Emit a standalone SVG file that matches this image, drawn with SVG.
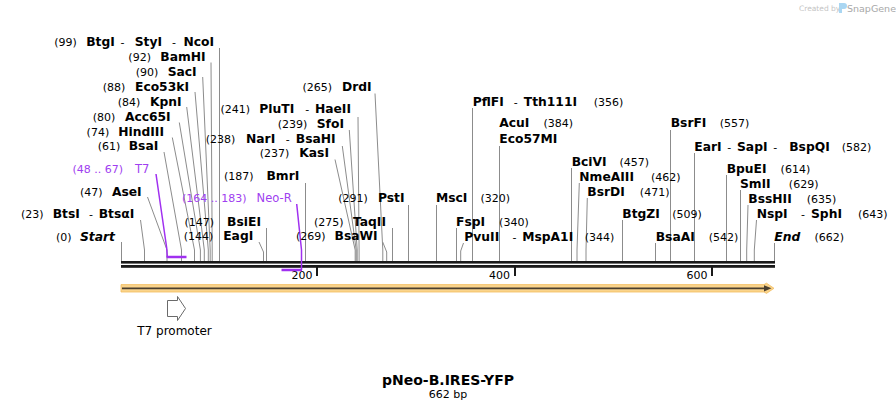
<svg xmlns="http://www.w3.org/2000/svg" width="896" height="411" viewBox="0 0 896 411">
<style>
text{font-family:"DejaVu Sans","Verdana",sans-serif;font-size:11px;fill:#000}
.b{font-weight:bold;font-size:12.3px}
.bi{font-weight:bold;font-style:italic;font-size:12.3px}
.p{fill:#a040f0}
.cut{stroke:#8c8c8c;stroke-width:1;fill:none}
.pl{stroke:#a030f0;stroke-width:1.5;fill:none}
.pbar{stroke:#a030f0;stroke-width:2.5;fill:none}
.tick{stroke:#1a1a1a;stroke-width:2}
</style>
<rect width="896" height="411" fill="#fff"/>

<g id="logo">
<text x="799" y="11" style="font-size:7.5px;fill:#c4c4c4">Created by</text>
<path d="M839,3 h5 a3,3 0 0 1 0,6 h-2 v4 h-3 z" fill="#a9d6f2"/>
<text x="847" y="11.5" style="font-size:9.5px;fill:#a8a8a8">SnapGene</text>
</g>

<g id="map">
<rect x="121" y="261" width="654" height="2.6" fill="#1a1a1a"/>
<rect x="121" y="265" width="654" height="2.8" fill="#1a1a1a"/>
<line class="tick" x1="317" y1="267" x2="317" y2="276"/>
<line class="tick" x1="515" y1="267" x2="515" y2="276"/>
<line class="tick" x1="712" y1="267" x2="712" y2="276"/>
<text x="312.5" y="279" text-anchor="end">200</text>
<text x="510" y="279" text-anchor="end">400</text>
<text x="707.5" y="279" text-anchor="end">600</text>
</g>

<g id="feature-full">
<path d="M121,284.6 H764 L766.5,283.2 L774,288.3 L766.5,293.4 L764,292 H121 Z" fill="#fad48c" stroke="#f2bd5e" stroke-width="0.8"/>
<line x1="122" y1="288.3" x2="767" y2="288.3" stroke="#4a3f2f" stroke-width="1.8"/>
<path d="M764,285.2 L771.5,288.3 L764,291.4 Z" fill="#4a3f2f"/>
</g>

<g id="t7-promoter">
<path d="M167.5,300.5 H177.5 V296.5 L185.5,308.5 L177.5,320.5 V316.5 H167.5 Z" fill="#fff" stroke="#6a6a6a" stroke-width="1"/>
<text x="174.5" y="334.5" text-anchor="middle" style="font-size:12px">T7 promoter</text>
</g>

<g id="title">
<text x="448" y="385" text-anchor="middle" style="font-size:14px;font-weight:bold">pNeo-B.IRES-YFP</text>
<text x="448" y="398" text-anchor="middle">662 bp</text>
</g>

<g id="connectors">
<polyline class="cut" points="121.5,242 121.5,261"/>
<polyline class="cut" points="140.5,220 144.5,250 144.5,261"/>
<polyline class="cut" points="147.5,197 167,250 167,261"/>
<polyline class="cut" points="164,152 181.5,250 181.5,261"/>
<polyline class="cut" points="172.3,137.5 194.5,250 194.5,261"/>
<polyline class="cut" points="179.3,122.5 200.4,250 200.4,261"/>
<polyline class="cut" points="186.7,107 204.3,250 204.3,261"/>
<polyline class="cut" points="195,92 208.3,250 208.3,261"/>
<polyline class="cut" points="202.7,77 210.2,250 210.2,261"/>
<polyline class="cut" points="211,62.5 212.2,250 212.2,261"/>
<polyline class="cut" points="219.5,48 219.5,261"/>
<polyline class="cut" points="259,242 263.5,252 263.5,261"/>
<polyline class="cut" points="266.5,228 266.5,261"/>
<polyline class="cut" points="305.5,183 305.5,261"/>
<polyline class="cut" points="335,159.5 355.2,250 355.2,261"/>
<polyline class="cut" points="342.3,146 356.2,250 356.2,261"/>
<polyline class="cut" points="349.3,130 357.2,250 357.2,261"/>
<polyline class="cut" points="358,117 359.1,250 359.1,261"/>
<polyline class="cut" points="375,93.5 382.8,250 382.8,261"/>
<polyline class="cut" points="382.7,242 386.7,252 386.7,261"/>
<polyline class="cut" points="392.5,228 392.5,261"/>
<polyline class="cut" points="408.5,205 408.5,261"/>
<polyline class="cut" points="436.5,205 436.5,261"/>
<polyline class="cut" points="456.5,228 456.5,261"/>
<polyline class="cut" points="463.5,243 460.7,251 460.7,261"/>
<polyline class="cut" points="472.5,108 472.5,261"/>
<polyline class="cut" points="499.5,146 499.5,261"/>
<polyline class="cut" points="571.5,168 571.5,261"/>
<polyline class="cut" points="579.3,183 577,250 577,261"/>
<polyline class="cut" points="587.3,198 586,250 586,261"/>
<polyline class="cut" points="622.5,220 622.5,261"/>
<polyline class="cut" points="655.5,243 655.5,261"/>
<polyline class="cut" points="670.5,130 670.5,261"/>
<polyline class="cut" points="694.5,153 694.5,261"/>
<polyline class="cut" points="726.5,175 726.5,261"/>
<polyline class="cut" points="740.5,190 740.5,261"/>
<polyline class="cut" points="748,205 746.7,250 746.7,261"/>
<polyline class="cut" points="756.5,220 754.3,250 754.3,261"/>
<polyline class="cut" points="774.5,243 774.5,261"/>
<polyline class="pl" points="156,174 166.7,248 167.3,257"/>
<line class="pbar" x1="166.5" y1="257" x2="186.5" y2="257"/>
<polyline class="pl" points="296.7,204 301.5,250 301.5,270"/>
<line class="pbar" x1="281.5" y1="270" x2="302" y2="270"/>
</g>

<g id="label-btgi"><text x="214" y="46" text-anchor="end">(99)<tspan class="b" dx="9.5">BtgI</tspan><tspan dx="5.6">-</tspan><tspan class="b" dx="10.3">StyI</tspan><tspan dx="10">-</tspan><tspan class="b" dx="7.3">NcoI</tspan></text></g>
<g id="label-bamhi"><text x="205.7" y="61" text-anchor="end">(92)<tspan class="b" dx="9.4">BamHI</tspan></text></g>
<g id="label-saci"><text x="196.7" y="76" text-anchor="end">(90)<tspan class="b" dx="9.4">SacI</tspan></text></g>
<g id="label-eco53ki"><text x="189" y="91" text-anchor="end">(88)<tspan class="b" dx="9.6">Eco53kI</tspan></text></g>
<g id="label-kpni"><text x="181.7" y="105.5" text-anchor="end">(84)<tspan class="b" dx="9.6">KpnI</tspan></text></g>
<g id="label-acc65i"><text x="170.7" y="120.5" text-anchor="end">(80)<tspan class="b" dx="9.6">Acc65I</tspan></text></g>
<g id="label-hindiii"><text x="164" y="135.5" text-anchor="end">(74)<tspan class="b" dx="9">HindIII</tspan></text></g>
<g id="label-bsai"><text x="158.3" y="150" text-anchor="end">(61)<tspan class="b" dx="8.5">BsaI</tspan></text></g>
<g id="label-t7"><text x="149.3" y="172.5" text-anchor="end" class="p">(48 .. 67)<tspan dx="12" style="font-size:11.5px">T7</tspan></text></g>
<g id="label-asei"><text x="141.7" y="195.5" text-anchor="end">(47)<tspan class="b" dx="9.3">AseI</tspan></text></g>
<g id="label-btsi"><text x="134.3" y="218" text-anchor="end">(23)<tspan class="b" dx="9">BtsI</tspan><tspan dx="9.3">-</tspan><tspan class="b" dx="5.6">BtsαI</tspan></text></g>
<g id="label-start"><text x="115" y="240.5" text-anchor="end">(0)<tspan class="bi" dx="8.4">Start</tspan></text></g>

<g id="label-pluti"><text x="351" y="113.3" text-anchor="end">(241)<tspan class="b" dx="9.3">PluTI</tspan><tspan dx="11">-</tspan><tspan class="b" dx="5.7">HaeII</tspan></text></g>
<g id="label-sfoi"><text x="344" y="127.5" text-anchor="end">(239)<tspan class="b" dx="9.4">SfoI</tspan></text></g>
<g id="label-nari"><text x="335.7" y="142.7" text-anchor="end">(238)<tspan class="b" dx="10.6">NarI</tspan><tspan dx="10.6">-</tspan><tspan class="b" dx="6">BsaHI</tspan></text></g>
<g id="label-kasi"><text x="329" y="157.3" text-anchor="end">(237)<tspan class="b" dx="10">KasI</tspan></text></g>
<g id="label-drdi"><text x="371.7" y="90.7" text-anchor="end">(265)<tspan class="b" dx="10">DrdI</tspan></text></g>
<g id="label-bmri"><text x="299.3" y="180" text-anchor="end">(187)<tspan class="b" dx="13">BmrI</tspan></text></g>
<g id="label-neor"><text x="291.7" y="201.7" text-anchor="end" class="p">(164 .. 183)<tspan dx="10" style="font-size:11.5px">Neo-R</tspan></text></g>
<g id="label-bsiei"><text x="261" y="225.7" text-anchor="end">(147)<tspan class="b" dx="13">BsiEI</tspan></text></g>
<g id="label-eagi"><text x="253.3" y="240" text-anchor="end">(144)<tspan class="b" dx="10">EagI</tspan></text></g>
<g id="label-psti"><text x="404.5" y="202.3" text-anchor="end">(291)<tspan class="b" dx="10">PstI</tspan></text></g>
<g id="label-taqii"><text x="386" y="225.7" text-anchor="end">(275)<tspan class="b" dx="9.3">TaqII</tspan></text></g>
<g id="label-bsawi"><text x="377.7" y="240" text-anchor="end">(269)<tspan class="b" dx="9">BsaWI</tspan></text></g>

<g id="label-pflfi"><text x="472.7" y="105.7"><tspan class="b">PflFI</tspan><tspan dx="10">-</tspan><tspan class="b" dx="6">Tth111I</tspan><tspan dx="16.6">(356)</tspan></text></g>
<g id="label-acui"><text x="499.3" y="127.3"><tspan class="b">AcuI</tspan><tspan dx="14">(384)</tspan></text><text x="499.3" y="142.7" class="b">Eco57MI</text></g>
<g id="label-bcivi"><text x="571.7" y="165.7"><tspan class="b">BciVI</tspan><tspan dx="12.7">(457)</tspan></text></g>
<g id="label-nmeaiii"><text x="579.3" y="180.7"><tspan class="b">NmeAIII</tspan><tspan dx="17">(462)</tspan></text></g>
<g id="label-bsrdi"><text x="587.3" y="195.7"><tspan class="b">BsrDI</tspan><tspan dx="15">(471)</tspan></text></g>
<g id="label-btgzi"><text x="622.3" y="217.7"><tspan class="b">BtgZI</tspan><tspan dx="12.4">(509)</tspan></text></g>
<g id="label-msci"><text x="436" y="202.3"><tspan class="b">MscI</tspan><tspan dx="13">(320)</tspan></text></g>
<g id="label-fspi"><text x="456" y="225.7"><tspan class="b">FspI</tspan><tspan dx="14">(340)</tspan></text></g>
<g id="label-pvuii"><text x="464.3" y="240.7"><tspan class="b">PvuII</tspan><tspan dx="13.3">-</tspan><tspan class="b" dx="5.7">MspA1I</tspan><tspan dx="11.6">(344)</tspan></text></g>
<g id="label-bsrfi"><text x="670.7" y="127.3"><tspan class="b">BsrFI</tspan><tspan dx="13.4">(557)</tspan></text></g>
<g id="label-eari"><text x="694.3" y="150.7"><tspan class="b">EarI</tspan><tspan dx="5.7">-</tspan><tspan class="b" dx="5.7">SapI</tspan><tspan dx="5.7">-</tspan><tspan class="b" dx="12">BspQI</tspan><tspan dx="12">(582)</tspan></text></g>
<g id="label-bpuei"><text x="726.7" y="172.7"><tspan class="b">BpuEI</tspan><tspan dx="14">(614)</tspan></text></g>
<g id="label-smli"><text x="740" y="187.7"><tspan class="b">SmlI</tspan><tspan dx="18.4">(629)</tspan></text></g>
<g id="label-bsshii"><text x="748.3" y="202.7"><tspan class="b">BssHII</tspan><tspan dx="15">(635)</tspan></text></g>
<g id="label-nspi"><text x="756.7" y="217.7"><tspan class="b">NspI</tspan><tspan dx="13.3">-</tspan><tspan class="b" dx="6">SphI</tspan><tspan dx="16">(643)</tspan></text></g>
<g id="label-bsaai"><text x="655.7" y="240.7"><tspan class="b">BsaAI</tspan><tspan dx="14">(542)</tspan></text></g>
<g id="label-end"><text x="774.3" y="240.7"><tspan class="bi">End</tspan><tspan dx="14.3">(662)</tspan></text></g>
</svg>
